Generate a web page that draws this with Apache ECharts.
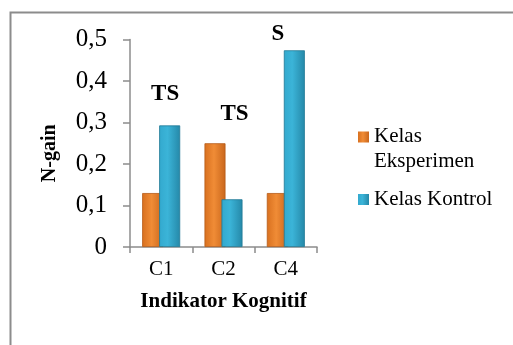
<!DOCTYPE html>
<html>
<head>
<meta charset="utf-8">
<script src="https://cdn.jsdelivr.net/npm/echarts@6/dist/echarts.min.js"></script>
<style>
html,body{margin:0;padding:0;background:#fff;}
#chart{width:513px;height:345px;}
</style>
</head>
<body>
<div id="chart"></div>
<script>
var categories = ['C1', 'C2', 'C4'];
var eksperimen = [0.13, 0.25, 0.13];
var kontrol = [0.293, 0.115, 0.474];
var sigLabels = ['TS', 'TS', 'S'];
var sigLabelY = [0.368, 0.32, 0.513];
var yTicks = [0, 0.1, 0.2, 0.3, 0.4, 0.5];

var FONT = '"Times New Roman", "Liberation Serif", serif';
var chart = echarts.init(document.getElementById('chart'), null, {renderer: 'canvas'});

var orangeFill = new echarts.graphic.LinearGradient(0, 0, 1, 0, [
  {offset: 0, color: '#D8701F'}, {offset: 0.45, color: '#F08C36'}, {offset: 1, color: '#C9661C'}
]);
var blueFill = new echarts.graphic.LinearGradient(0, 0, 1, 0, [
  {offset: 0, color: '#33A9CE'}, {offset: 0.4, color: '#3BB4D8'}, {offset: 1, color: '#2588A8'}
]);

var labelOffsets = [[4, 0], [11, 0], [-8, 0]];

chart.setOption({
  animation: false,
  graphic: [{
    type: 'rect', left: 8, top: 10, silent: true,
    shape: {x: 0, y: 0, width: 600, height: 400},
    style: {fill: 'none', stroke: '#8C8C8C', lineWidth: 2}
  }],
  grid: {left: 130, right: 196, top: 39.5, bottom: 98},
  legend: [{
    data: ['Kelas Eksperimen'],
    left: 358, top: 124, padding: 0,
    itemWidth: 11, itemHeight: 35,
    icon: 'path://M0,0L11,0L11,11L0,11Z M0,35L0.01,35Z',
    itemStyle: {borderWidth: 0},
    formatter: function () { return 'Kelas\nEksperimen'; },
    textStyle: {fontFamily: FONT, fontSize: 21, color: '#000', lineHeight: 25}
  }, {
    data: ['Kelas Kontrol'],
    left: 358, top: 189, padding: 0,
    itemWidth: 11, itemHeight: 11,
    icon: 'rect',
    itemStyle: {borderWidth: 0},
    textStyle: {fontFamily: FONT, fontSize: 21, color: '#000', lineHeight: 21}
  }],
  xAxis: {
    type: 'category',
    data: categories,
    name: 'Indikator Kognitif',
    nameLocation: 'middle',
    nameGap: 44,
    nameTextStyle: {fontFamily: FONT, fontSize: 21, fontWeight: 'bold', color: '#000'},
    axisLine: {lineStyle: {color: '#8C8C8C', width: 1.5}},
    axisTick: {show: true, length: 6, alignWithLabel: false, lineStyle: {color: '#8C8C8C', width: 1.5}},
    axisLabel: {fontFamily: FONT, fontSize: 21, color: '#000', margin: 12}
  },
  yAxis: {
    type: 'value',
    min: 0, max: 0.5, interval: 0.1,
    name: 'N-gain',
    nameLocation: 'middle',
    nameGap: 70,
    nameTextStyle: {fontFamily: FONT, fontSize: 20, fontWeight: 'bold', color: '#000', padding: [0, 20, 0, 0]},
    axisLine: {show: true, lineStyle: {color: '#8C8C8C', width: 1.5}},
    axisTick: {show: true, length: 7, lineStyle: {color: '#8C8C8C', width: 1.5}},
    splitLine: {show: false},
    axisLabel: {
      fontFamily: FONT, fontSize: 25, color: '#000', margin: 23,
      formatter: function (v) {
        var t = yTicks.find(function (x) { return Math.abs(x - v) < 1e-9; });
        return String(Math.round((t === undefined ? v : t) * 10) / 10).replace('.', ',');
      }
    }
  },
  series: [{
    name: 'Kelas Eksperimen',
    type: 'bar',
    data: eksperimen,
    barWidth: 21,
    barGap: '-19%',
    itemStyle: {color: orangeFill, borderColor: '#B65A17', borderWidth: 0.8}
  }, {
    name: 'Kelas Kontrol',
    type: 'bar',
    data: kontrol,
    barWidth: 21,
    itemStyle: {color: blueFill, borderColor: '#1F7896', borderWidth: 0.8}
  }, {
    name: 'sig',
    type: 'scatter',
    clip: false,
    symbol: 'circle',
    symbolSize: 1,
    silent: true,
    itemStyle: {color: '#fff', opacity: 1},
    data: sigLabelY.map(function (y, i) {
      return {value: [i, y], label: {offset: labelOffsets[i]}};
    }),
    label: {
      show: true, position: 'inside', opacity: 1,
      textBorderWidth: 0, textShadowBlur: 0,
      fontFamily: FONT, fontSize: 23, fontWeight: 'bold', color: '#000',
      formatter: function (p) { return sigLabels[p.dataIndex]; }
    }
  }]
});
</script>
</body>
</html>
